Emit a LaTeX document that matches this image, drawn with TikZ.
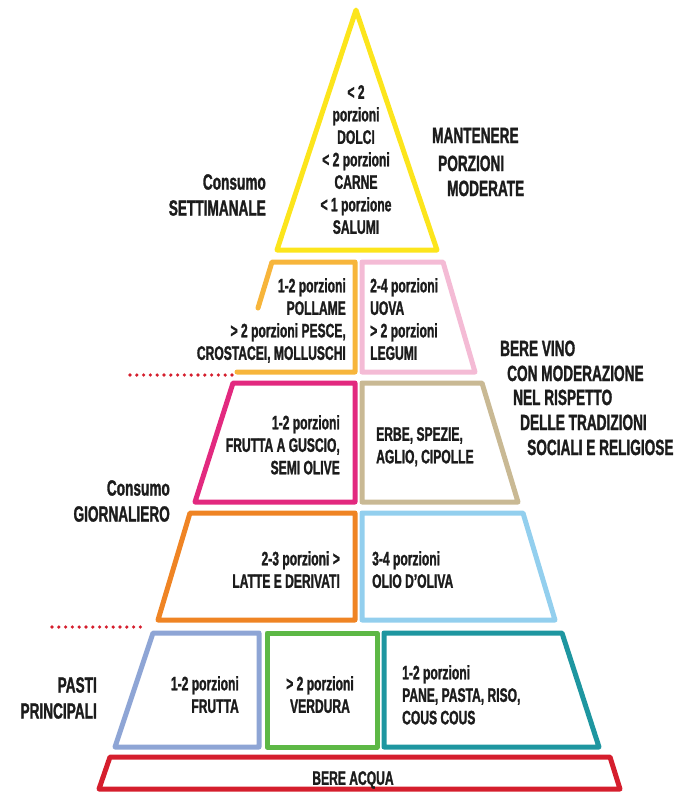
\documentclass[tikz,border=0pt]{standalone}
\usepackage{fontspec}
\setmainfont{Liberation Sans}[FakeStretch=0.62, BoldFeatures={FakeBold=1.3}]
\definecolor{ink}{HTML}{1C1C1C}
\definecolor{cyellow}{HTML}{FCE51C}
\definecolor{clorange}{HTML}{F7B53B}
\definecolor{cpink}{HTML}{F4BBD5}
\definecolor{cmagenta}{HTML}{E2297F}
\definecolor{ctan}{HTML}{C9B994}
\definecolor{corange}{HTML}{EF8424}
\definecolor{clblue}{HTML}{93CFEE}
\definecolor{cbgray}{HTML}{8EA5D5}
\definecolor{cgreen}{HTML}{5DB846}
\definecolor{cteal}{HTML}{1E96A0}
\definecolor{cred}{HTML}{D51E2D}
\tikzset{
  tier/.style={line width=5pt, line join=round},
  txt/.style={font=\fontsize{19.5}{22.5}\selectfont\bfseries, text=ink, inner sep=0pt},
  side/.style={font=\fontsize{22}{26}\selectfont\bfseries, text=ink, inner sep=0pt},
  dotline/.style={draw=cred, line width=3.6pt, line cap=round, dash pattern=on 0pt off 6.8pt},
}
\begin{document}
\begin{tikzpicture}[x=1pt,y=-1pt]
\useasboundingbox (0,0) rectangle (676,793);
% tiers
\draw[tier, draw=cyellow] (356,10) -- (437,250) -- (277,250) -- cycle;
\draw[tier, draw=clorange, line cap=round] (258,308) -- (272,262) -- (355,262) -- (355,372) -- (237,372);
\draw[tier, draw=cpink] (362,262) -- (443,262) -- (475,372) -- (362,372) -- cycle;
\draw[tier, draw=cmagenta] (233,383) -- (355,383) -- (355,502) -- (195,502) -- cycle;
\draw[tier, draw=ctan] (362,383) -- (482,383) -- (518,502) -- (362,502) -- cycle;
\draw[tier, draw=corange] (190,513) -- (355,513) -- (355,620) -- (158,620) -- cycle;
\draw[tier, draw=clblue] (362,513) -- (523,513) -- (555,620) -- (362,620) -- cycle;
\draw[tier, draw=cbgray] (153,633) -- (259,633) -- (259,747) -- (115,747) -- cycle;
\draw[tier, draw=cgreen] (267,633) -- (377,633) -- (377,747) -- (267,747) -- cycle;
\draw[tier, draw=cteal] (384,633) -- (562,633) -- (599,747) -- (384,747) -- cycle;
\draw[tier, draw=cred] (110,757) -- (610,757) -- (620,789) -- (99,789) -- cycle;
% dotted separators
\coordinate (d1a) at (130,375);
\coordinate (d1b) at (232,375);
\coordinate (d2a) at (52,627);
\coordinate (d2b) at (147,627);
\draw[dotline] (d1a) -- (d1b);
\draw[dotline] (d2a) -- (d2b);
% texts in tiers
\node[txt, anchor=north, align=center] (t1) at (356,85) {< 2\\porzioni\\DOLCI\\< 2 porzioni\\CARNE\\< 1 porzione\\SALUMI};
\node[txt, anchor=north east, align=right] (t2a) at (346,278) {1-2 porzioni\\POLLAME\\> 2 porzioni PESCE,\\CROSTACEI, MOLLUSCHI};
\node[txt, anchor=north west, align=left] (t2b) at (370,278) {2-4 porzioni\\UOVA\\> 2 porzioni\\LEGUMI};
\node[txt, anchor=north east, align=right] (t3a) at (340,415) {1-2 porzioni\\FRUTTA A GUSCIO,\\SEMI OLIVE};
\node[txt, anchor=north west, align=left] (t3b) at (376,427) {ERBE, SPEZIE,\\AGLIO, CIPOLLE};
\node[txt, anchor=north east, align=right] (t4a) at (340,551) {2-3 porzioni >\\LATTE E DERIVATI};
\node[txt, anchor=north west, align=left] (t4b) at (372,551) {3-4 porzioni\\OLIO D’OLIVA};
\node[txt, anchor=north east, align=right] (t5a) at (239,676) {1-2 porzioni\\FRUTTA};
\node[txt, anchor=north, align=center] (t5b) at (320,676) {> 2 porzioni\\VERDURA};
\node[txt, anchor=north west, align=left] (t5c) at (402,665) {1-2 porzioni\\PANE, PASTA, RISO,\\COUS COUS};
\node[txt, anchor=north] (t6) at (353,771) {BERE ACQUA};
% side labels
\node[side, anchor=north east, align=right] (ls1) at (266,174) {Consumo\\SETTIMANALE};
\node[side, anchor=north east, align=right] (ls2) at (170,480) {Consumo\\GIORNALIERO};
\node[side, anchor=north east, align=right] (ls3) at (97,677) {PASTI\\PRINCIPALI};
\node[side, anchor=base west] (r1) at (432,143) {MANTENERE};
\node[side, anchor=base west] (r2) at (438,171) {PORZIONI};
\node[side, anchor=base west] (r3) at (447,196) {MODERATE};
\node[side, anchor=base west] (v1) at (500,356) {BERE VINO};
\node[side, anchor=base west] (v2) at (507,381) {CON MODERAZIONE};
\node[side, anchor=base west] (v3) at (513,405) {NEL RISPETTO};
\node[side, anchor=base west] (v4) at (520,430) {DELLE TRADIZIONI};
\node[side, anchor=base west] (v5) at (527,455) {SOCIALI E RELIGIOSE};
\end{tikzpicture}
\end{document}
